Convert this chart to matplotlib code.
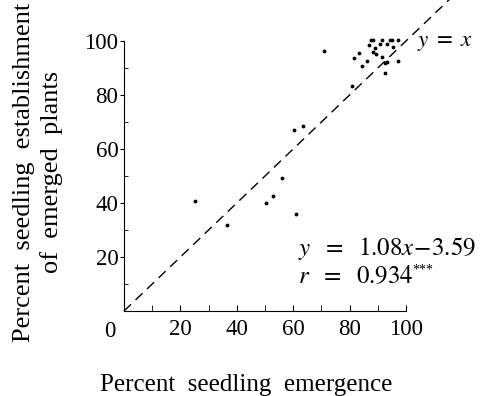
import numpy as np
import matplotlib
matplotlib.use('Agg')
import matplotlib.pyplot as plt
from matplotlib.ticker import MultipleLocator

plt.rcParams['font.family'] = ['Liberation Serif', 'DejaVu Serif']
plt.rcParams['mathtext.fontset'] = 'stix'

# emergence (x) vs establishment (y), percent
emergence = [25.1, 36.4, 50.4, 52.7, 55.9, 60.9, 60.2, 63.5, 70.9, 81.0,
             81.4, 83.2, 84.4, 86.1, 87.0, 87.5, 88.4, 89.0, 90.8, 91.5,
             93.1, 94.5, 95.2, 97.3, 88.4, 89.5, 91.4, 92.6, 93.1, 92.7,
             97.3, 95.5]
establishment = [40.8, 31.9, 40.1, 42.7, 49.4, 36.1, 67.1, 68.4, 96.3, 83.4,
                 93.7, 95.7, 90.6, 92.5, 98.4, 100.2, 100.5, 97.5, 99.0, 100.4,
                 99.0, 100.3, 100.5, 100.5, 95.9, 95.3, 94.0, 91.9, 92.2, 88.3,
                 92.5, 97.8]

fig = plt.figure(figsize=(4.83, 3.96), dpi=100)
ax = fig.add_axes([0.2567, 0.2146, 0.5839, 0.6819])

ax.plot(emergence, establishment, 'k.', markersize=3.5, clip_on=False)
ax.plot([0, 125], [0, 125], color='black', linestyle=(0, (7, 4.5)), linewidth=1.0,
        clip_on=False)

ax.set_xlim(0, 100)
ax.set_ylim(0, 100)
ax.spines['top'].set_visible(False)
ax.spines['right'].set_visible(False)
ax.xaxis.set_major_locator(MultipleLocator(20))
ax.xaxis.set_minor_locator(MultipleLocator(10))
ax.yaxis.set_major_locator(MultipleLocator(20))
ax.yaxis.set_minor_locator(MultipleLocator(10))
ax.tick_params(axis='x', which='both', direction='in', length=4, labelsize=16.5, pad=6)
ax.tick_params(axis='y', which='major', direction='out', length=3, labelsize=16.5, pad=1)
ax.tick_params(axis='y', which='minor', direction='in', length=3)
ax.set_xticks([20, 40, 60, 80, 100])
ax.set_yticks([20, 40, 60, 80, 100])

ax.text(-5, -7.5, '0', fontsize=16.5, ha='center', va='center', clip_on=False)
ax.text(104, 99.6, '$y\\ =\\ x$', fontsize=16.5, ha='left', va='center', clip_on=False)
ax.text(61.7, 23.0, '$y\\ \\ =\\ \\ 1.08x\\!-\\!3.59$', fontsize=18, ha='left', va='center',
        clip_on=False)
ax.text(61.7, 12.5, '$r\\ \\ =\\ \\ 0.934$', fontsize=18, ha='left', va='center')
ax.text(102.3, 15.3, '***', fontsize=10, ha='left', va='center', clip_on=False)

fig.text(246 / 483, 1 - 385 / 396, 'Percent  seedling  emergence', fontsize=18,
         ha='center', va='center')
fig.text(38 / 483, 1 - 172 / 396, 'Percent  seedling  establishment\nof  emerged  plants',
         fontsize=19, rotation=90, ha='center', va='center', multialignment='center',
         linespacing=1.25)

fig.savefig('out.png', dpi=100)
